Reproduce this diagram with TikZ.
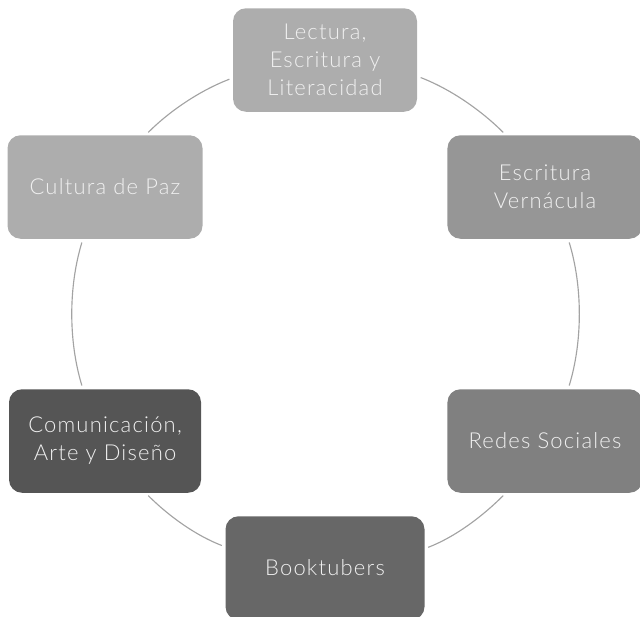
\documentclass[tikz,border=0pt]{standalone}
\usepackage{fontspec}
\setmainfont{Lato}[UprightFont=* Light, LetterSpace=5.5]

\definecolor{grisA}{HTML}{ADADAD}
\definecolor{grisB}{HTML}{969696}
\definecolor{grisC}{HTML}{808080}
\definecolor{grisD}{HTML}{676767}
\definecolor{grisE}{HTML}{555555}
\definecolor{trazo}{HTML}{A3A3A3}

\tikzset{
  tema/.style={rectangle, rounded corners=0.26cm, minimum width=3.9cm, minimum height=2.07cm,
    inner sep=2pt, align=center, text=white!94!black, font={\fontsize{12.5}{16}\selectfont}},
  enlace/.style={draw=trazo, line width=0.65pt, looseness=0.85, shorten <=2pt, shorten >=2pt}
}

\begin{document}
\begin{tikzpicture}
        \useasboundingbox (-6.5,-6.04) rectangle (6.3,6.28);

        \node[tema, fill=grisA, minimum width=3.68cm] (lec) at (90:5.08) {Lectura,\\Escritura y\\Literacidad};
        \node[tema, fill=grisB] (esc) at (30:5.08) {Escritura\\Vernácula};
        \node[tema, fill=grisC] (red) at (-30:5.08) {Redes Sociales};
        \node[tema, fill=grisD, minimum width=3.98cm] (boo) at (-90:5.08) {Booktubers};
        \node[tema, fill=grisE, minimum width=3.84cm] (com) at (-150:5.08) {Comunicación,\\Arte y Diseño};
        \node[tema, fill=grisA] (cul) at (150:5.08) {Cultura de Paz};

        % ring
        \draw[enlace] (lec.-10.6) to[out=-21, in=135] (esc.127.6);
        \draw[enlace] (esc.-66.4) to[out=-73, in=73] (red.66.4);
        \draw[enlace] (red.-127.6) to[out=-135, in=21] (boo.11.5);
        \draw[enlace] (boo.168.5) to[out=159, in=-45] (com.-52.4);
        \draw[enlace] (com.113.6) to[out=107, in=-107] (cul.-113.6);
        \draw[enlace] (cul.52.4) to[out=45, in=-159] (lec.-169.4);
\end{tikzpicture}
\end{document}
